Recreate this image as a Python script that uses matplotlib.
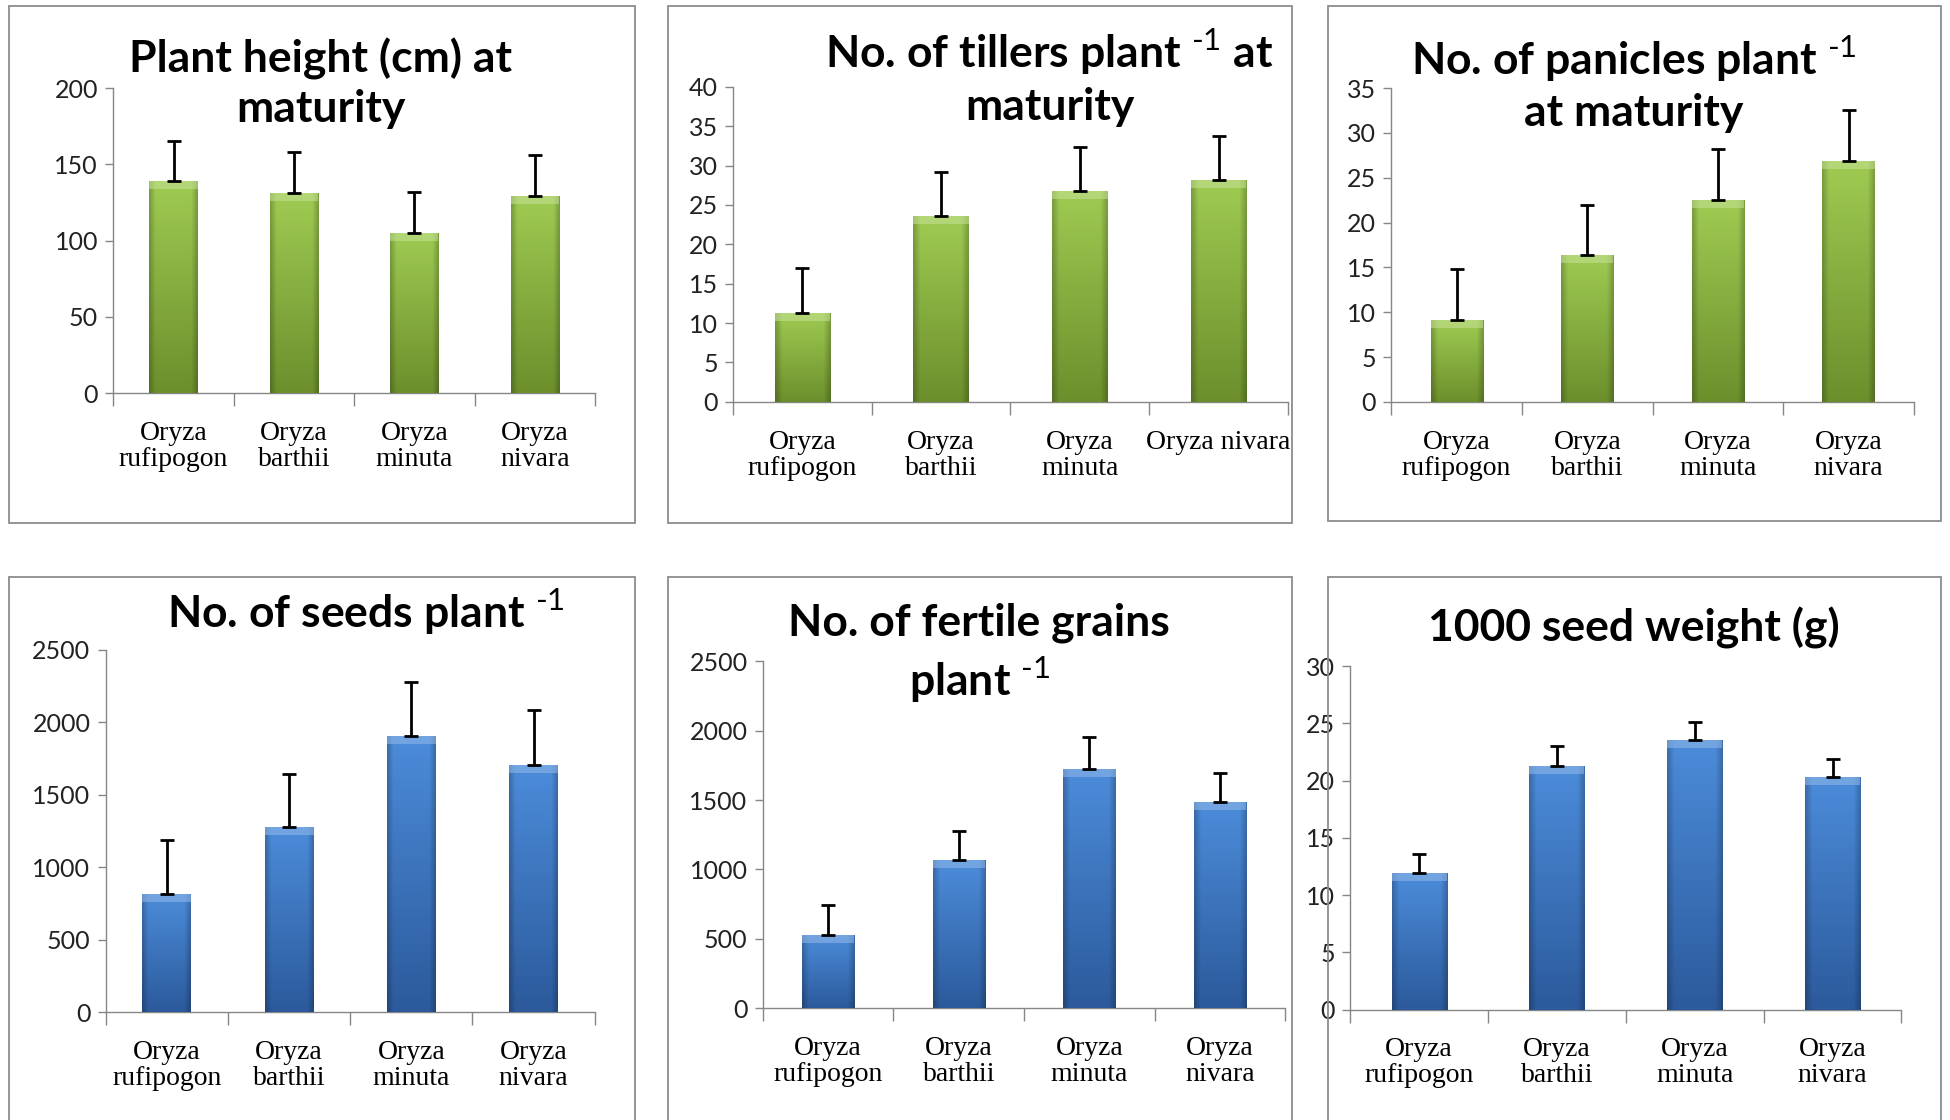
import numpy as np
import matplotlib
matplotlib.use('Agg')
import matplotlib.pyplot as plt
from matplotlib.patches import Rectangle

# Data
species = ['Oryza\nrufipogon', 'Oryza\nbarthii', 'Oryza\nminuta', 'Oryza\nnivara']
species_tillers = ['Oryza\nrufipogon', 'Oryza\nbarthii', 'Oryza\nminuta', 'Oryza nivara']

plant_height = [139, 131, 105, 129]
plant_height_err = [26.5, 27, 27, 27]

tillers = [11.3, 23.6, 26.8, 28.2]
tillers_err = [5.7, 5.6, 5.6, 5.6]

panicles = [9.1, 16.4, 22.5, 26.9]
panicles_err = [5.7, 5.6, 5.7, 5.7]

seeds = [815, 1276, 1909, 1707]
seeds_err = [370, 369, 372, 379]

fertile_grains = [527, 1065, 1726, 1484]
fertile_grains_err = [216, 213, 226, 211]

seed_weight = [11.9, 21.3, 23.5, 20.3]
seed_weight_err = [1.65, 1.75, 1.6, 1.6]

plt.rcParams['font.family'] = ['Lato', 'DejaVu Sans']
plt.rcParams['mathtext.fontset'] = 'custom'
plt.rcParams['mathtext.rm'] = 'Lato'
plt.rcParams['mathtext.bf'] = 'Lato:bold'

GREEN = (np.array([0x9f, 0xcb, 0x52]) / 255, np.array([0x6c, 0x8f, 0x2c]) / 255)
BLUE = (np.array([0x4c, 0x8c, 0xda]) / 255, np.array([0x2c, 0x5a, 0x9c]) / 255)

fig = plt.figure(figsize=(19.5, 11.2), dpi=100)


def bar_gradient(top, bottom):
    # vertical fade + darker side edges, like the Excel bevel bars
    v = np.linspace(0, 1, 60)[:, None, None]
    u = np.linspace(-1, 1, 40)[None, :, None]
    base = top * (1 - v) + bottom * v
    edge = 1 - 0.22 * np.clip((np.abs(u) - 0.75) / 0.25, 0, 1)
    return np.clip(base * edge, 0, 1)


def draw_panel(rect, names, values, errs, ymax, ystep, colors):
    ax = fig.add_axes(rect)
    x = np.arange(len(values))
    bars = ax.bar(x, values, width=0.4, color=colors[0], zorder=2)
    img = bar_gradient(*colors)
    # bevel strip on top of each bar, about 8 px high
    ax_px = rect[3] * fig.get_figheight() * fig.dpi
    bevel = 8 * ymax / ax_px
    for b in bars:
        x0, w, h = b.get_x(), b.get_width(), b.get_height()
        im = ax.imshow(img, extent=[x0, x0 + w, 0, h], aspect='auto', zorder=3,
                       interpolation='bilinear')
        im.set_clip_path(b)
        ax.add_patch(Rectangle((x0, h - bevel), w, bevel, color=colors[0] * 0.6 + 0.4,
                               alpha=0.55, linewidth=0, zorder=3.5))
    ax.errorbar(x, values, yerr=[np.zeros(len(errs)), errs], fmt='none', ecolor='black',
                elinewidth=2, capsize=5, capthick=2, zorder=4)
    ax.set_xlim(-0.5, len(values) - 0.5)
    ax.set_ylim(0, ymax)
    ax.set_yticks(np.arange(0, ymax + ystep / 2, ystep))
    # category ticks sit between the bars, labels under the bars
    ax.set_xticks(np.arange(len(values) + 1) - 0.5)
    ax.set_xticklabels([])
    ax.set_xticks(x, minor=True)
    ax.set_xticklabels(names, minor=True, family='Liberation Serif', fontsize=20,
                       linespacing=1.05)
    ax.tick_params(axis='x', which='minor', length=0, pad=20)
    ax.tick_params(axis='x', which='major', length=9, color='#868686', width=1)
    ax.tick_params(axis='y', length=6, color='#868686', width=1, labelsize=18,
                   labelcolor='#222222', pad=5)
    for s in ['top', 'right']:
        ax.spines[s].set_visible(False)
    for s in ['left', 'bottom']:
        ax.spines[s].set_color('#868686')
        ax.spines[s].set_linewidth(1)
    ax.set_facecolor('none')
    return ax


# panel frames
for x0, x1, y0, y1 in [(0.0045, 0.3255, 0.5327, 0.9945), (0.3427, 0.6624, 0.5327, 0.9945),
                       (0.6809, 0.9955, 0.5349, 0.9945), (0.0045, 0.3255, -0.02, 0.485),
                       (0.3427, 0.6624, -0.02, 0.485), (0.6809, 0.9955, -0.02, 0.485)]:
    fig.add_artist(Rectangle((x0, y0), x1 - x0, y1 - y0, transform=fig.transFigure,
                             fill=False, edgecolor='#8c8c8c', linewidth=1.3))

draw_panel([0.0581, 0.649, 0.247, 0.2724], species, plant_height, plant_height_err, 200, 50, GREEN)
draw_panel([0.3759, 0.6412, 0.2846, 0.2813], species_tillers, tillers, tillers_err, 40, 5, GREEN)
draw_panel([0.7135, 0.6412, 0.268, 0.2802], species, panicles, panicles_err, 35, 5, GREEN)
draw_panel([0.0542, 0.0963, 0.2508, 0.3234], species, seeds, seeds_err, 2500, 500, BLUE)
draw_panel([0.3912, 0.0997, 0.268, 0.31], species, fertile_grains, fertile_grains_err, 2500, 500, BLUE)
draw_panel([0.6924, 0.0986, 0.2827, 0.3067], species, seed_weight, seed_weight_err, 30, 5, BLUE)

# titles
sup = r'$^{\text{-1}}$'
title_kw = dict(ha='center', va='center', fontsize=32, fontweight='bold', linespacing=1.28)
fig.text(0.1646, 0.9258, 'Plant height (cm) at\nmaturity', **title_kw)
fig.text(0.5383, 0.9313, 'No. of tillers plant ' + sup + ' at\nmaturity', **title_kw)
fig.text(0.8379, 0.9258, 'No. of panicles plant ' + sup + '\nat maturity', **title_kw)
fig.text(0.1876, 0.454, 'No. of seeds plant ' + sup, **title_kw)
fig.text(0.5022, 0.416, 'No. of fertile grains\nplant ' + sup, **title_kw)
fig.text(0.8379, 0.4396, '1000 seed weight (g)', **title_kw)

plt.savefig('out.png', dpi=100)
